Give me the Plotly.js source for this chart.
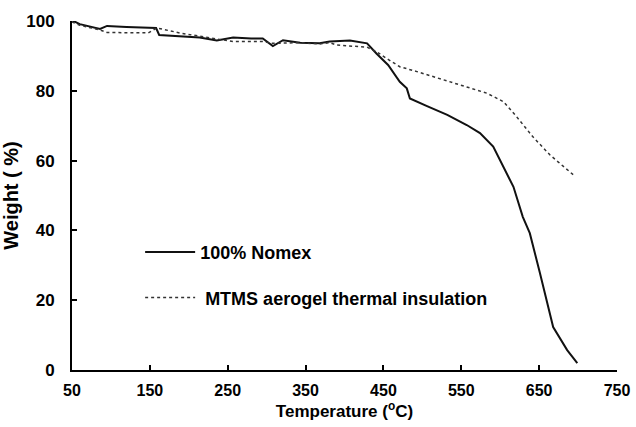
<!DOCTYPE html>
<html>
<head>
<meta charset="utf-8">
<script src="https://cdn.plot.ly/plotly-3.0.1.min.js"></script>
<style>html,body{margin:0;padding:0;background:#fff;}#chart{width:636px;height:427px;}</style>
</head>
<body>
<div id="chart"></div>
<script>
var nomexT = [50, 60, 86, 95, 120, 158, 162, 190, 214, 236, 257, 280, 295, 308, 321, 343, 368, 381, 407, 429, 441, 456, 471, 480, 484, 506, 532, 557, 574, 591, 604, 617, 629, 638, 651, 668, 686, 699];
var nomexW = [100.2, 99.1, 97.7, 98.6, 98.3, 98.0, 96.0, 95.7, 95.3, 94.4, 95.3, 95.0, 95.0, 92.8, 94.5, 93.8, 93.6, 94.1, 94.4, 93.6, 90.7, 87.4, 82.6, 80.7, 77.8, 75.6, 73.1, 70.2, 67.9, 64.0, 58.3, 52.5, 43.9, 39.2, 27.8, 12.3, 5.7, 2.0];
var mtmsT = [50, 60, 86, 95, 148, 159, 190, 214, 257, 295, 308, 343, 368, 381, 390, 429, 441, 456, 471, 493, 527, 557, 583, 604, 621, 642, 664, 694];
var mtmsW = [99.7, 98.8, 97.4, 96.7, 96.6, 98.0, 96.5, 95.7, 94.1, 94.1, 93.6, 93.8, 93.4, 93.8, 93.1, 92.5, 91.2, 89.0, 86.9, 85.5, 83.1, 81.2, 79.3, 76.9, 72.6, 66.8, 61.6, 55.9];
var seriesNames = ["100% Nomex", " MTMS aerogel thermal insulation"];
var xTicks = [50, 150, 250, 350, 450, 550, 650, 750];
var yTicks = [0, 20, 40, 60, 80, 100];

var fam = "Liberation Sans, Arial, sans-serif";
var bold = function (s) { return {family: fam, size: s, color: "#000", weight: "bold"}; };
var traces = [
  {x: nomexT, y: nomexW, type: "scatter", mode: "lines", name: seriesNames[0], legendgroup: "a",
   line: {color: "#111", width: 2}},
  {x: mtmsT, y: mtmsW, type: "scatter", mode: "lines", name: seriesNames[1], legendgroup: "b",
   line: {color: "#333", width: 1.5, dash: "dot"}}
];
var layout = {
  width: 636, height: 427,
  margin: {l: 72, r: 19, t: 21, b: 57},
  paper_bgcolor: "#fff", plot_bgcolor: "#fff",
  font: {family: fam, size: 16, color: "#000"},
  showlegend: true,
  legend: {x: 0.125, y: 0.39, xanchor: "left", yanchor: "top", traceorder: "grouped", tracegroupgap: 19,
           itemwidth: 50, font: bold(18), bgcolor: "rgba(0,0,0,0)"},
  xaxis: {range: [50, 750], tickvals: xTicks, ticktext: xTicks.map(String), ticks: "inside", ticklen: 5, tickwidth: 2,
          tickcolor: "#000", showline: true, linewidth: 2, linecolor: "#000", showgrid: false, zeroline: false,
          tickfont: bold(16), ticklabelstandoff: 5,
          title: {text: "Temperature (<sup>o</sup>C)", standoff: 6, font: bold(17)}},
  yaxis: {range: [0, 100], tickvals: yTicks, ticktext: yTicks.map(String), ticks: "inside", ticklen: 5, tickwidth: 2,
          tickcolor: "#000", showline: true, linewidth: 2, linecolor: "#000", showgrid: false, zeroline: false,
          tickfont: bold(17), ticklabelstandoff: 12,
          title: {text: "Weight ( %)", standoff: 6, font: bold(20)}}
};
Plotly.newPlot("chart", traces, layout, {displayModeBar: false, staticPlot: true});
</script>
</body>
</html>
